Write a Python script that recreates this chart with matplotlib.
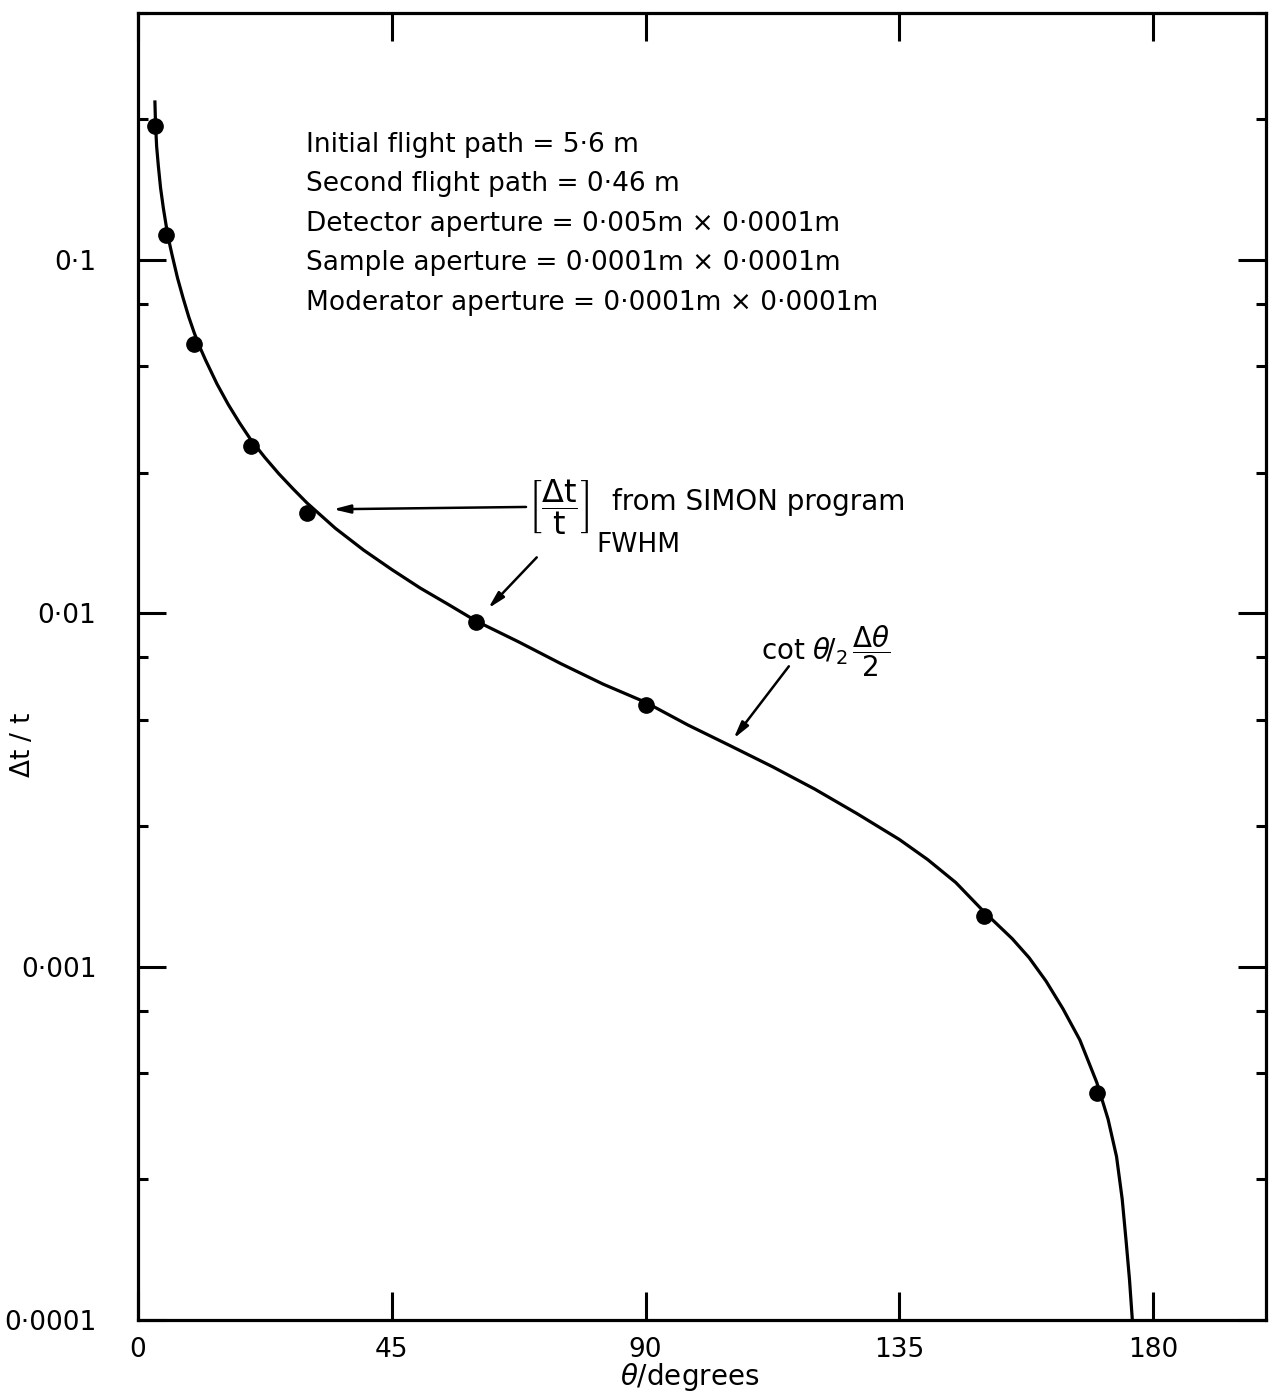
import numpy as np
import matplotlib
matplotlib.use("Agg")
import matplotlib.pyplot as plt
from matplotlib.ticker import FixedLocator, FixedFormatter

############################################################################################################
# SIMON program points (theta in degrees, dt/t FWHM)
theta_pts = [3, 5, 10, 20, 30, 60, 90, 150, 170]
dtt_pts = [0.24, 0.118, 0.058, 0.0297, 0.0192, 0.00943, 0.00552, 0.00139, 0.00044]

# cot(theta/2) dtheta/2 curve
theta_curve = [3.0, 3.1, 3.3, 3.6, 4.0, 4.5, 5.0, 5.5, 6.0, 7.0, 8.0, 9.0, 10, 11, 12, 14, 16, 18,
               20, 22.5, 25, 27.5, 30, 35, 40, 45, 50, 55, 60, 67.5, 75, 82.5, 90, 97.5, 105,
               112.5, 120, 127.5, 135, 140, 145, 150, 155, 158, 161, 164, 167, 170, 172, 173.5,
               174.5, 175.2, 175.8, 176.3]
dtt_curve = [0.28, 0.245, 0.21, 0.185, 0.16, 0.14, 0.125, 0.113, 0.104, 0.089, 0.078, 0.069,
             0.062, 0.0565, 0.052, 0.0446, 0.039, 0.0346, 0.031, 0.0276, 0.0248, 0.0225, 0.0205,
             0.0174, 0.0151, 0.0133, 0.0118, 0.0106, 0.0095, 0.0083, 0.0072, 0.0063, 0.0056,
             0.00483, 0.00422, 0.00368, 0.00318, 0.00271, 0.00229, 0.00201, 0.00173, 0.00143,
             0.0012, 0.00106, 0.00091, 0.00076, 0.00062, 0.00047, 0.00037, 0.00029, 0.00022,
             0.000167, 0.00013, 0.0001]

x_ticks = [0, 45, 90, 135, 180]
y_major = [0.0001, 0.001, 0.01, 0.1]
y_labels = ["0\u00b70001", "0\u00b7001", "0\u00b701", "0\u00b71"]

info_lines = ["Initial flight path = 5\u00b76 m",
              "Second flight path = 0\u00b746 m",
              "Detector aperture = 0\u00b7005m \u00d7 0\u00b70001m",
              "Sample aperture = 0\u00b70001m \u00d7 0\u00b70001m",
              "Moderator aperture = 0\u00b70001m \u00d7 0\u00b70001m"]

###########################################################################################################
W, H = 1269, 1398
fig = plt.figure(figsize=(W/100, H/100), dpi=100)
# axes box in pixels: x 138..1266, y 13..1320
ax = fig.add_axes([138/W, 1 - 1320/H, (1266-138)/W, (1320-13)/H])

ax.plot(theta_curve, dtt_curve, color="k", lw=2.3)
ax.plot(theta_pts, dtt_pts, "o", color="k", ms=11)

ax.set_yscale("log")
ax.set_xlim(0, 200)
ax.set_ylim(1e-4, 0.5)

ax.xaxis.set_major_locator(FixedLocator(x_ticks))
ax.set_xticklabels([str(v) for v in x_ticks])
ax.yaxis.set_major_locator(FixedLocator(y_major))
ax.yaxis.set_major_formatter(FixedFormatter(y_labels))
minors = [m*10.0**k for k in range(-4, 0) for m in (2.5, 5, 7.5)]
ax.yaxis.set_minor_locator(FixedLocator(minors))
ax.yaxis.set_minor_formatter(FixedFormatter([""]*len(minors)))
ax.xaxis.set_minor_locator(FixedLocator([]))

ax.tick_params(which="both", direction="in", top=True, right=True, width=2.2, colors="k")
ax.tick_params(which="major", length=20, labelsize=19)
ax.tick_params(which="minor", length=7)
ax.tick_params(axis="x", pad=12)
ax.tick_params(axis="y", pad=30)
for s in ax.spines.values():
    s.set_linewidth(2.3)

ax.set_xlabel(r"$\theta$/degrees", fontsize=20)
ax.xaxis.set_label_coords(0.489, -0.031)
ax.set_ylabel(r"$\Delta$t / t", fontsize=19)
ax.yaxis.set_label_coords(-0.09, 0.44)

#info block
for i, line in enumerate(info_lines):
    ax.text(0.149, 0.899 - i*0.0302, line, transform=ax.transAxes, fontsize=19, ha="left", va="center")

arrow = dict(arrowstyle="-|>,head_length=1.0,head_width=0.25", lw=1.8, color="k", shrinkA=0, shrinkB=0)
ax.annotate("", xy=(34.6, 0.0197), xytext=(68.8, 0.0200), arrowprops=arrow)
ax.annotate("", xy=(62.1, 0.01033), xytext=(70.7, 0.0144), arrowprops=arrow)
ax.annotate("", xy=(105.6, 0.00442), xytext=(115.4, 0.00708), arrowprops=arrow)

ax.text(69.2, 0.0200, r"$\left[\dfrac{\Delta\mathrm{t}}{\mathrm{t}}\right]$", fontsize=23, ha="left", va="center")
ax.text(81.3, 0.0156, "FWHM", fontsize=19, ha="left", va="center")
ax.text(84.0, 0.0207, "from SIMON program", fontsize=20, ha="left", va="center")
ax.text(110.4, 0.0078, r"cot $\theta\!/_{2}\,\dfrac{\Delta\theta}{2}$", fontsize=20, ha="left", va="center")

plt.savefig("out.png", dpi=100)
